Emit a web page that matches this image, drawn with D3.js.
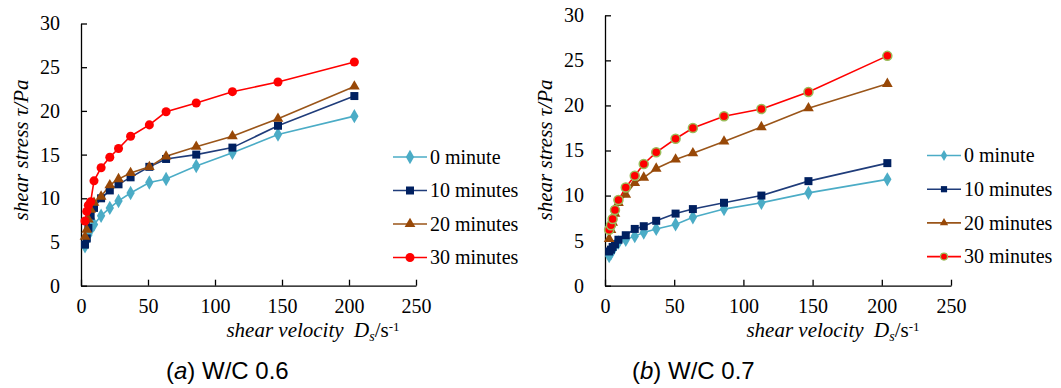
<!DOCTYPE html>
<html lang="en">
<head>
  <meta charset="UTF-8">
  <title>shear stress vs shear velocity</title>
  <script src="https://cdn.jsdelivr.net/npm/d3@7"></script>
  <style>
    body { margin: 0; background: #fff; }
    svg text { font-family: "Liberation Serif", "Times New Roman", serif; fill: #000; }
    .caption { font-family: "Liberation Sans", Arial, sans-serif; }
  </style>
</head>
<body>
<svg id="chart" width="1061" height="388"></svg>
<script>
// shear velocity (1/s), shared by both tests
const shearRate = [3, 4.3, 5.5, 7.2, 9.7, 15, 21.5, 28, 37, 51, 63.5, 86, 113, 147, 204];
const seriesNames = ["0 minute", "10 minutes", "20 minutes", "30 minutes"];
const xTicks = [0, 50, 100, 150, 200, 250];
const yTicks = [0, 5, 10, 15, 20, 25, 30];

// W/C 0.6
const wc06_0  = [4.5, 5.2, 5.8, 6.4, 7.0, 8.0, 8.9, 9.7, 10.6, 11.8, 12.2, 13.7, 15.2, 17.3, 19.4];
const wc06_10 = [4.7, 5.4, 6.6, 8.0, 8.9, 10.0, 10.9, 11.6, 12.4, 13.6, 14.5, 15.0, 15.8, 18.3, 21.7];
const wc06_20 = [5.6, 6.4, 7.6, 8.7, 9.5, 10.2, 11.5, 12.2, 12.9, 13.6, 14.8, 15.9, 17.1, 19.1, 22.8];
const wc06_30 = [7.4, 8.5, 9.2, 9.6, 12.0, 13.5, 14.7, 15.7, 17.1, 18.4, 19.9, 20.9, 22.2, 23.3, 25.6];

// W/C 0.7
const wc07_0  = [3.3, 3.6, 4.0, 4.4, 4.8, 5.1, 5.5, 5.9, 6.3, 6.8, 7.6, 8.5, 9.2, 10.3, 11.8];
const wc07_10 = [3.8, 4.0, 4.3, 4.6, 5.1, 5.6, 6.3, 6.6, 7.2, 8.0, 8.5, 9.2, 10.0, 11.6, 13.6];
const wc07_20 = [5.2, 6.2, 7.0, 8.0, 9.2, 10.1, 11.4, 12.0, 13.0, 14.0, 14.7, 16.0, 17.6, 19.7, 22.4];
const wc07_30 = [6.2, 6.7, 7.4, 8.4, 9.5, 10.9, 12.2, 13.5, 14.8, 16.3, 17.5, 18.8, 19.6, 21.5, 25.5];

const styles = [
  { line: "#4bacc6", fill: "#4bacc6", symbol: d3.symbolDiamond, size: 60 },
  { line: "#1f3c7a", fill: "#002060", symbol: d3.symbolSquare, size: 64 },
  { line: "#9a5519", fill: "#984807", symbol: d3.symbolTriangle, size: 50 },
  { line: "#ff0000", fill: "#ff0000", symbol: d3.symbolCircle, size: 64 }
];

const panels = [
  { left: 81, right: 416, top: 23.5, bottom: 285.7, series: [wc06_0, wc06_10, wc06_20, wc06_30],
    circleStroke: null, legendX: 393, legendY: 157, legendGap: 33.5, legendMarker: 1,
    yTitleX: 21, xTitleX: 313, caption: "W/C 0.6", capLetter: "a", capX: 166 },
  { left: 605, right: 951, top: 15.3, bottom: 285.7, series: [wc07_0, wc07_10, wc07_20, wc07_30],
    circleStroke: "#9bbb59", legendX: 927, legendY: 155.5, legendGap: 33.7, legendMarker: 0.6,
    yTitleX: 545, xTitleX: 833, caption: "W/C 0.7", capLetter: "b", capX: 632 }
];

const svg = d3.select("#chart");

panels.forEach(p => {
  const x = d3.scaleLinear().domain([0, 250]).range([p.left, p.right]);
  const y = d3.scaleLinear().domain([0, 30]).range([p.bottom, p.top]);
  const g = svg.append("g");

  const xAxis = g.append("g")
    .attr("transform", "translate(0," + p.bottom + ")")
    .call(d3.axisBottom(x).tickValues(xTicks).tickSizeInner(-6).tickSizeOuter(0).tickPadding(13));
  const yAxis = g.append("g")
    .attr("transform", "translate(" + p.left + ",0)")
    .call(d3.axisLeft(y).tickValues(yTicks).tickSizeInner(-6).tickSizeOuter(0).tickPadding(21));
  [xAxis, yAxis].forEach(a => {
    a.select(".domain").attr("stroke", "#000").attr("stroke-width", 1.3);
    a.selectAll(".tick line").attr("stroke", "#000").attr("stroke-width", 1.3);
    a.selectAll(".tick text").style("font-size", "20px").attr("fill", "#000");
  });

  const line = d3.line().x((d, i) => x(shearRate[i])).y(d => y(d));

  p.series.forEach((vals, k) => {
    const s = styles[k];
    g.append("path").datum(vals)
      .attr("fill", "none").attr("stroke", s.line).attr("stroke-width", 1.6)
      .attr("d", line);
  });
  p.series.forEach((vals, k) => {
    const s = styles[k];
    const stroke = (k === 3 && p.circleStroke) ? p.circleStroke : "none";
    g.selectAll(null).data(vals).enter().append("path")
      .attr("d", d3.symbol().type(s.symbol).size(s.size))
      .attr("transform", (d, i) => "translate(" + x(shearRate[i]) + "," + y(d) + ")")
      .attr("fill", s.fill)
      .attr("stroke", stroke).attr("stroke-width", 1.5);
  });

  // legend
  seriesNames.forEach((name, k) => {
    const s = styles[k];
    const ly = p.legendY + k * p.legendGap;
    const lg = g.append("g");
    lg.append("line").attr("x1", p.legendX).attr("x2", p.legendX + 34)
      .attr("y1", ly).attr("y2", ly).attr("stroke", s.line).attr("stroke-width", 1.6);
    lg.append("path")
      .attr("d", d3.symbol().type(s.symbol).size(s.size * p.legendMarker))
      .attr("transform", "translate(" + (p.legendX + 17) + "," + ly + ")")
      .attr("fill", s.fill)
      .attr("stroke", (k === 3 && p.circleStroke) ? p.circleStroke : "none").attr("stroke-width", 1.2);
    lg.append("text").attr("x", p.legendX + 37).attr("y", ly).attr("dy", "0.33em")
      .style("font-size", "20px").text(name);
  });

  // y title
  g.append("text")
    .attr("transform", "translate(" + p.yTitleX + ",150) rotate(-90)")
    .attr("text-anchor", "middle").attr("dy", "0.35em")
    .style("font-size", "21px").style("font-style", "italic")
    .text("shear stress τ/Pa");

  // x title
  const xt = g.append("text").attr("x", p.xTitleX).attr("y", 337)
    .attr("text-anchor", "middle").style("font-size", "21px");
  xt.append("tspan").style("font-style", "italic").text("shear velocity\u00a0\u00a0D");
  xt.append("tspan").style("font-style", "italic").style("font-size", "14px").attr("dy", 4).text("s");
  xt.append("tspan").attr("dy", -4).text("/s");
  xt.append("tspan").style("font-size", "13px").attr("dy", -6).text("-1");

  // caption
  const cap = g.append("text").attr("class", "caption").attr("x", p.capX).attr("y", 379)
    .style("font-size", "24px");
  cap.append("tspan").text("(");
  cap.append("tspan").style("font-style", "italic").text(p.capLetter);
  cap.append("tspan").text(") " + p.caption);
});
</script>
</body>
</html>
